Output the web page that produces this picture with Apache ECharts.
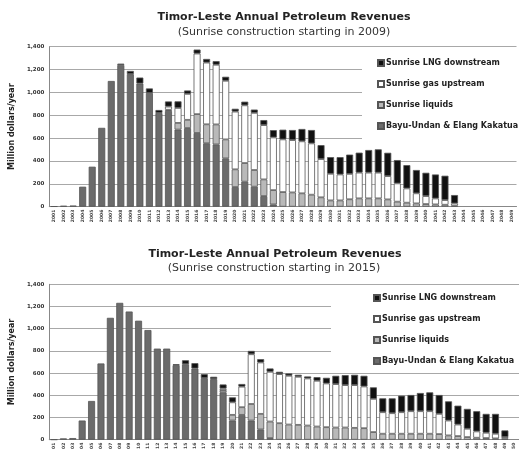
<!DOCTYPE html>
<html>
<head>
<meta charset="utf-8">
<script src="https://cdn.jsdelivr.net/npm/echarts@6/dist/echarts.min.js"></script>
<style>
html,body{margin:0;padding:0;background:#fff;}
#c{width:519px;height:452px;}
</style>
</head>
<body>
<div id="c"></div>
<script>
var seriesNames = ['Bayu-Undan & Elang Kakatua', 'Sunrise liquids', 'Sunrise gas upstream', 'Sunrise LNG downstream'];
var legendOrder = ['Sunrise LNG downstream', 'Sunrise gas upstream', 'Sunrise liquids', 'Bayu-Undan & Elang Kakatua'];
var yTicks = [0, 200, 400, 600, 800, 1000, 1200, 1400];

var topYears = ['2001','2002','2003','2004','2005','2006','2007','2008','2009','2010',
  '2011','2012','2013','2014','2015','2016','2017','2018','2019','2020',
  '2021','2022','2023','2024','2025','2026','2027','2028','2029','2030',
  '2031','2032','2033','2034','2035','2036','2037','2038','2039','2040',
  '2041','2042','2043','2044','2045','2046','2047','2048','2049'];
var topBayu = [3,8,10,175,350,690,1100,1240,1160,1078,995,820,838,675,688,645,555,545,423,172,
  219,175,93,20,0,0,0,0,0,0,0,0,0,0,0,0,0,0,0,0,0,0,0,0,0,0,0,0,0];
var topLiquids = [0,0,0,0,0,0,0,0,0,0,0,0,10,58,72,165,166,175,166,155,
  163,146,146,125,128,125,117,105,82,55,55,65,73,73,73,64,44,35,29,23,20,17,9,0,0,0,0,0,0];
var topUpstream = [0,0,0,0,0,0,0,0,0,0,0,0,28,131,227,530,540,522,513,505,
  505,500,475,461,461,458,455,449,335,233,227,222,225,225,225,204,160,125,88,70,52,41,20,0,0,0,0,0,0];
var topLNG = [0,0,0,0,0,0,0,12,28,52,40,26,45,58,30,35,32,32,35,25,
  32,29,44,64,85,88,108,117,122,146,152,169,175,198,204,204,204,204,204,204,210,213,73,0,0,0,0,0,0];

var botYears = ['01','02','03','04','05','06','07','08','09','10',
  '11','12','13','14','15','16','17','18','19','20',
  '21','22','23','24','25','26','27','28','29','30',
  '31','32','33','34','35','36','37','38','39','40',
  '41','42','43','44','45','46','47','48','49','50'];
var botBayu = [2,12,15,173,349,687,1098,1233,1155,1072,988,821,821,672,680,642,555,546,427,173,
  224,173,93,15,0,0,0,0,0,0,0,0,0,0,0,0,0,0,0,0,0,0,0,0,0,0,0,0,0,0];
var botLiquids = [0,0,0,0,0,0,0,0,0,0,0,0,0,0,0,0,0,0,20,51,
  69,149,140,149,149,137,134,128,119,113,110,110,107,104,69,54,54,54,54,54,54,51,39,33,24,18,15,12,9,0];
var botUpstream = [0,0,0,0,0,0,0,0,0,0,0,0,0,0,0,0,0,0,15,113,
  185,448,463,448,442,439,433,424,412,394,391,382,385,376,299,194,185,194,203,203,203,182,134,104,75,57,48,42,15,0];
var botLNG = [0,0,0,0,0,0,0,0,0,0,0,0,0,9,36,48,36,21,36,45,
  24,30,30,30,21,21,18,18,33,51,75,90,93,96,104,125,134,149,146,164,170,170,173,170,179,182,170,179,60,0];

var fills = ['#6b6b6b', '#b9b9b9', '#ffffff', '#111111'];
var FONT = 'DejaVu Sans';

function clean(arr) { return arr.map(function (v) { return v === 0 ? '-' : v; }); }

function makeSeries(sets, idx, stack) {
  return sets.map(function (d, k) {
    return {
      name: seriesNames[k], type: 'bar', stack: stack,
      xAxisIndex: idx, yAxisIndex: idx,
      barWidth: 7,
      data: clean(d),
      itemStyle: { color: fills[k], borderColor: '#555', borderWidth: 0.8 },
      emphasis: { disabled: true }, animation: false
    };
  });
}

function yAxisDef(idx) {
  return {
    type: 'value', gridIndex: idx, min: 0, max: 1400, interval: 200,
    name: 'Million dollars/year', nameLocation: 'middle', nameGap: 27,
    nameTextStyle: { fontFamily: FONT, fontSize: 8, fontWeight: 'bold', color: '#222' },
    axisLine: { show: true, lineStyle: { color: '#888', width: 1 } },
    axisTick: { show: false },
    axisLabel: {
      fontFamily: FONT, fontSize: 5.5, fontWeight: 'bold', color: '#333', margin: 5,
      formatter: function (v) { return v.toLocaleString('en-US'); }
    },
    splitLine: { show: true, lineStyle: { color: '#a8a8a8', width: 1 } }
  };
}

function xAxisDef(idx, cats) {
  return {
    type: 'category', gridIndex: idx, data: cats,
    axisLine: { show: true, lineStyle: { color: '#888', width: 1 } },
    axisTick: { show: false },
    axisLabel: { interval: 0, rotate: 90, fontFamily: FONT, fontSize: 4.5, fontWeight: 'bold', color: '#444', margin: 3 }
  };
}

function legendDef(left, top, pad, gap) {
  return {
    data: legendOrder, orient: 'vertical', left: left, top: top,
    backgroundColor: '#ffffff', padding: pad, itemGap: gap,
    itemWidth: 6, itemHeight: 6, icon: 'rect', selectedMode: false,
    textStyle: { fontFamily: FONT, fontSize: 8, fontWeight: 'bold', color: '#222', lineHeight: 10, padding: [0, 0, 0, -3] }
  };
}

var chart = echarts.init(document.getElementById('c'), null, { renderer: 'canvas' });
chart.setOption({
  backgroundColor: '#ffffff',
  animation: false,
  grid: [
    { left: 42.2, top: 46.7, width: 474.3, height: 160 },
    { left: 42.4, top: 284.3, width: 480, height: 156.7 }
  ],
  xAxis: [xAxisDef(0, topYears), xAxisDef(1, botYears)],
  yAxis: [yAxisDef(0), yAxisDef(1)],
  legend: [
    legendDef(362, 49, [9, 30, 13, 15], 11),
    legendDef(331, 287, [6, 30, 6, 42], 11)
  ],
  graphic: [
    { type: 'text', x: 284, y: 17, style: { text: 'Timor-Leste Annual Petroleum Revenues', font: 'bold 11px "DejaVu Sans"', fill: '#222', textAlign: 'center', textVerticalAlign: 'middle' } },
    { type: 'text', x: 284, y: 32, style: { text: '(Sunrise construction starting in 2009)', font: '11px "DejaVu Sans"', fill: '#333', textAlign: 'center', textVerticalAlign: 'middle' } },
    { type: 'text', x: 275, y: 254, style: { text: 'Timor-Leste Annual Petroleum Revenues', font: 'bold 11px "DejaVu Sans"', fill: '#222', textAlign: 'center', textVerticalAlign: 'middle' } },
    { type: 'text', x: 274, y: 268, style: { text: '(Sunrise construction starting in 2015)', font: '11px "DejaVu Sans"', fill: '#333', textAlign: 'center', textVerticalAlign: 'middle' } }
  ],
  series: makeSeries([topBayu, topLiquids, topUpstream, topLNG], 0, 'top')
    .concat(makeSeries([botBayu, botLiquids, botUpstream, botLNG], 1, 'bot'))
});
</script>
</body>
</html>
